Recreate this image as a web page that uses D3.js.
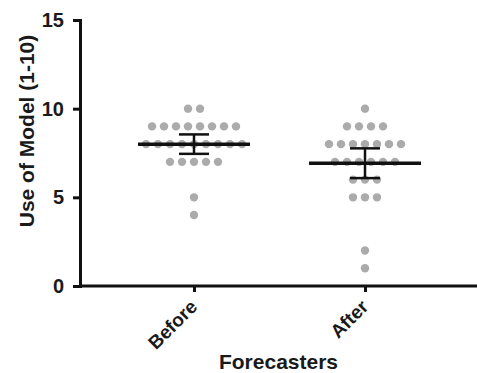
<!DOCTYPE html>
<html><head><meta charset="utf-8">
<script src="https://cdn.jsdelivr.net/npm/d3@7"></script>
<style>body{margin:0;background:#fff}text{font-family:"Liberation Sans",Arial,sans-serif;font-weight:bold;fill:#1a1a1a}</style>
</head><body><svg id="c" width="477" height="373"></svg>
<script>
const categories = ["Before", "After"];
// values on the 1-10 scale, one entry per forecaster
const beforeValues = [10,10, 9,9,9,9,9,9,9,9, 8,8,8,8,8,8,8,8,8, 7,7,7,7,7, 5, 4];
const afterValues = [10, 9,9,9,9, 8,8,8,8,8,8,8, 7,7,7,7,7,7, 6,6,6, 5,5,5, 2, 1];
const yTicks = [0, 5, 10, 15];
const series = [beforeValues, afterValues];

const svg = d3.select("#c");
const m = {l: 80, r: 0, t: 20, b: 87};
const W = 477, H = 373;
const x = d3.scalePoint().domain(categories).range([194, 365]);
const y = d3.scaleLinear().domain([0, 15]).range([286, 20]);

// dots
const spacing = 12;
categories.forEach((c, i) => {
  const vals = series[i];
  const counts = d3.rollup(vals, v => v.length, d => d);
  const pts = [];
  counts.forEach((n, v) => {
    for (let k = 0; k < n; k++) pts.push({v, off: (k - (n - 1) / 2) * spacing});
  });
  svg.append("g").selectAll("circle").data(pts).join("circle")
    .attr("cx", d => x(c) + d.off).attr("cy", d => y(d.v)).attr("r", 4.2)
    .attr("fill", "#ababab");
  // mean and 95% CI
  const mean = d3.mean(vals), sd = d3.deviation(vals), n = vals.length;
  const ci = 2.06 * sd / Math.sqrt(n);
  const g = svg.append("g").attr("stroke", "#111");
  g.append("line").attr("x1", x(c) - 56).attr("x2", x(c) + 56)
    .attr("y1", y(mean)).attr("y2", y(mean)).attr("stroke-width", 3.5);
  g.append("line").attr("x1", x(c)).attr("x2", x(c))
    .attr("y1", y(mean + ci)).attr("y2", y(mean - ci)).attr("stroke-width", 2.5);
  [mean + ci, mean - ci].forEach(v => g.append("line")
    .attr("x1", x(c) - 15).attr("x2", x(c) + 15)
    .attr("y1", y(v)).attr("y2", y(v)).attr("stroke-width", 2.5));
});

// y axis
const ya = svg.append("g").attr("transform", `translate(${m.l},0)`)
  .call(d3.axisLeft(y).tickValues(yTicks).tickSize(7).tickPadding(9));
ya.select(".domain").attr("stroke", "#111").attr("stroke-width", 3);
ya.selectAll(".tick line").attr("stroke", "#111").attr("stroke-width", 3);
ya.selectAll(".tick text").style("font-size", "20px");

// x axis
const xa = svg.append("g").attr("transform", "translate(0,286)")
  .call(d3.axisBottom(x).tickSize(6).tickSizeOuter(0));
xa.select(".domain").attr("d", `M${m.l},0H${W}`).attr("stroke", "#111").attr("stroke-width", 3);
xa.selectAll(".tick line").attr("stroke", "#111").attr("stroke-width", 3);
xa.selectAll(".tick text").style("font-size", "19px")
  .attr("text-anchor", "end").attr("dy", null).attr("y", 0)
  .attr("transform", "translate(4,22) rotate(-45)");

svg.append("text").attr("x", (m.l + W) / 2).attr("y", 369)
  .attr("text-anchor", "middle").style("font-size", "21px").text("Forecasters");
svg.append("text").attr("transform", "translate(34,131) rotate(-90)")
  .attr("text-anchor", "middle").style("font-size", "21px").text("Use of Model (1-10)");
</script></body></html>
